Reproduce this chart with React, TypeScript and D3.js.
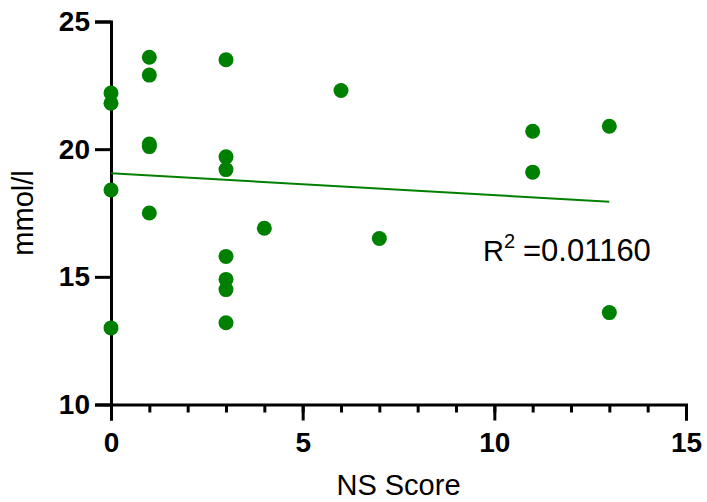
import React, { useEffect, useRef } from 'react';
import * as d3 from 'd3';

// NS Score (x) vs mmol/l (y)
const nsScore = [0, 0, 0, 0, 1, 1, 1, 1, 1, 3, 3, 3, 3, 3, 3, 3, 4, 6, 7, 11, 11, 13, 13];
const mmol = [22.2, 21.8, 18.4, 13.0, 23.6, 22.9, 20.2, 20.1, 17.5, 23.5, 19.7, 19.2, 15.8, 14.9, 14.5, 13.2, 16.9, 22.3, 16.5, 20.7, 19.1, 20.9, 13.6];
const xTicks = [0, 5, 10, 15];
const yTicks = [10, 15, 20, 25];
const xMinorTicks = d3.range(0, 16);
const r2Label = '0.01160';

const GREEN = '#008000';
const FONT = '"Liberation Sans", Arial, Helvetica, sans-serif';

export default function App() {
  const svgRef = useRef<SVGSVGElement>(null);
  const width = 707;
  const height = 502;

  useEffect(() => {
    if (!svgRef.current) return;
    const svg = d3.select(svgRef.current);
    svg.selectAll('*').remove();

    const xScale = d3.scaleLinear().domain([0, 15]).range([111, 686]);
    const yScale = d3.scaleLinear().domain([10, 25]).range([404.5, 21.5]);

    const points = nsScore.map((x, i) => ({ x, y: mmol[i] }));

    // least-squares fit
    const mx = d3.mean(nsScore) || 0;
    const my = d3.mean(mmol) || 0;
    const sxy = d3.sum(points, p => (p.x - mx) * (p.y - my));
    const sxx = d3.sum(points, p => (p.x - mx) ** 2);
    const slope = sxy / sxx;
    const intercept = my - slope * mx;
    const xMax = d3.max(nsScore) || 13;
    const fit = [0, xMax].map(x => ({ x, y: intercept + slope * x }));

    // minor x ticks
    svg.append('g')
      .attr('transform', `translate(0,${yScale(10)})`)
      .call(d3.axisBottom(xScale).tickValues(xMinorTicks).tickSize(8).tickFormat(() => ''))
      .call(g => g.select('.domain').remove())
      .call(g => g.selectAll('line').attr('stroke', '#000').attr('stroke-width', 3));

    // x axis
    svg.append('g')
      .attr('transform', `translate(0,${yScale(10)})`)
      .call(d3.axisBottom(xScale).tickValues(xTicks).tickSize(16).tickPadding(12).tickFormat(d3.format('d')))
      .call(g => g.select('.domain').attr('stroke', '#000').attr('stroke-width', 3))
      .call(g => g.selectAll('line').attr('stroke', '#000').attr('stroke-width', 3))
      .call(g => g.selectAll('text')
        .attr('fill', '#000')
        .attr('font-family', FONT)
        .attr('font-size', 28)
        .attr('font-weight', 'bold'));

    // y axis
    svg.append('g')
      .attr('transform', `translate(${xScale(0)},0)`)
      .call(d3.axisLeft(yScale).tickValues(yTicks).tickSize(16).tickPadding(5).tickFormat(d3.format('d')))
      .call(g => g.select('.domain').attr('stroke', '#000').attr('stroke-width', 3))
      .call(g => g.selectAll('line').attr('stroke', '#000').attr('stroke-width', 3))
      .call(g => g.selectAll('text')
        .attr('fill', '#000')
        .attr('font-family', FONT)
        .attr('font-size', 28)
        .attr('font-weight', 'bold'));

    // regression line
    svg.append('path')
      .datum(fit)
      .attr('fill', 'none')
      .attr('stroke', GREEN)
      .attr('stroke-width', 2)
      .attr('d', d3.line<{ x: number; y: number }>().x(d => xScale(d.x)).y(d => yScale(d.y)));

    // points
    svg.append('g')
      .selectAll('circle')
      .data(points)
      .join('circle')
      .attr('cx', d => xScale(d.x))
      .attr('cy', d => yScale(d.y))
      .attr('r', 7.5)
      .attr('fill', GREEN);

    // axis titles
    svg.append('text')
      .attr('x', (xScale(0) + xScale(15)) / 2)
      .attr('y', 495)
      .attr('text-anchor', 'middle')
      .attr('font-family', FONT)
      .attr('font-size', 29)
      .attr('fill', '#000')
      .text('NS Score');

    svg.append('text')
      .attr('transform', `translate(33,${(yScale(10) + yScale(25)) / 2}) rotate(-90)`)
      .attr('text-anchor', 'middle')
      .attr('font-family', FONT)
      .attr('font-size', 29)
      .attr('fill', '#000')
      .text('mmol/l');

    // R squared annotation
    const r2 = svg.append('text')
      .attr('x', 483)
      .attr('y', 261)
      .attr('font-family', FONT)
      .attr('fill', '#000');
    r2.append('tspan').attr('font-size', 29).text('R');
    r2.append('tspan').attr('font-size', 20).attr('dy', -13).text('2');
    r2.append('tspan').attr('font-size', 31).attr('x', 523).attr('y', 261).text('=' + r2Label);
  }, []);

  return (
    <svg
      ref={svgRef}
      width={width}
      height={height}
      style={{ position: 'absolute', left: 0, top: 0, background: '#fff' }}
    />
  );
}
